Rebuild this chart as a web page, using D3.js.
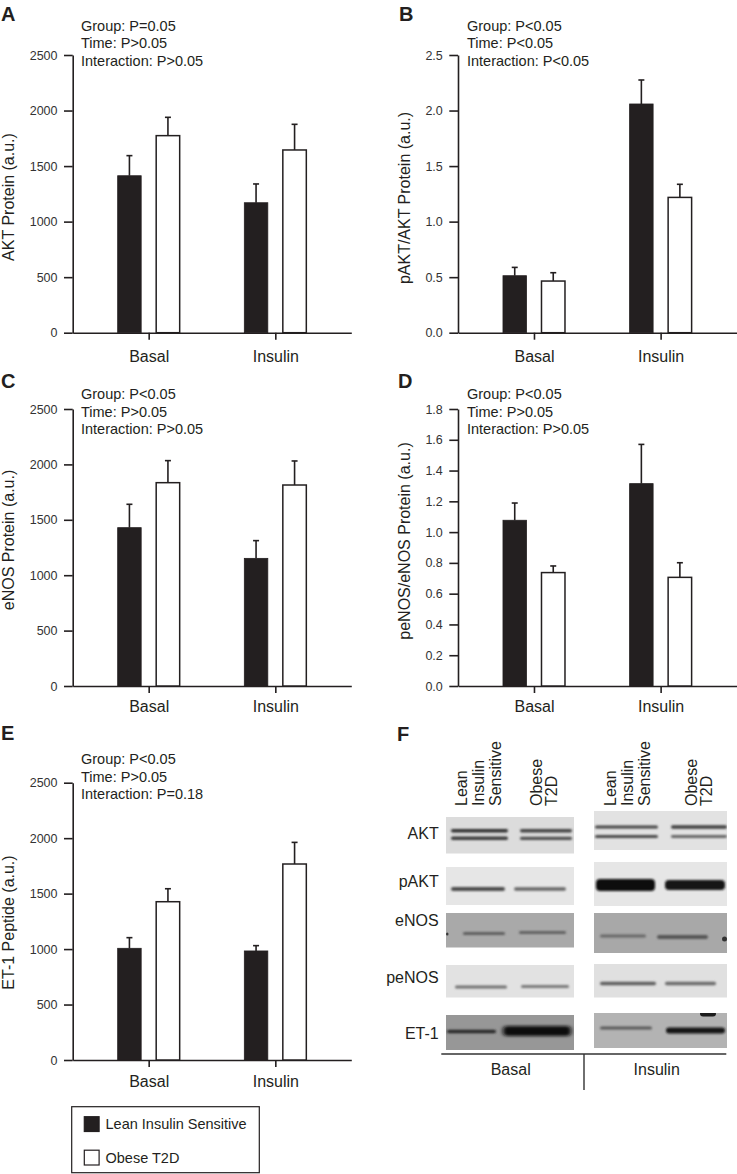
<!DOCTYPE html>
<html><head><meta charset="utf-8">
<script src="https://cdn.jsdelivr.net/npm/d3@7"></script>
<style>
body{margin:0;background:#fff;}
svg{display:block;font-family:"Liberation Sans",Arial,Helvetica,sans-serif;}
</style></head>
<body>
<svg id="chart" width="737" height="1174"></svg>
<script>
// ---------------- DATA ----------------
const categories = ["Basal", "Insulin"];
const groups = ["Lean Insulin Sensitive", "Obese T2D"];

const aktLean = [1413, 1170];
const aktLeanErr = [181, 169];
const aktObese = [1774, 1645];
const aktObeseErr = [165, 231];

const paktLean = [0.513, 2.059];
const paktLeanErr = [0.075, 0.216];
const paktObese = [0.465, 1.218];
const paktObeseErr = [0.075, 0.118];

const enosLean = [1429, 1152];
const enosLeanErr = [211, 160];
const enosObese = [1835, 1814];
const enosObeseErr = [199, 217];

const penosLean = [1.077, 1.315];
const penosLeanErr = [0.112, 0.255];
const penosObese = [0.737, 0.706];
const penosObeseErr = [0.043, 0.095];

const et1Lean = [1007, 983];
const et1LeanErr = [96, 48];
const et1Obese = [1427, 1767];
const et1ObeseErr = [117, 195];

const ticks2500 = [0, 500, 1000, 1500, 2000, 2500];
const ticksPakt = [0, 0.5, 1.0, 1.5, 2.0, 2.5];
const ticksPenos = [0, 0.2, 0.4, 0.6, 0.8, 1.0, 1.2, 1.4, 1.6, 1.8];

const statsA = ["Group: P=0.05", "Time: P>0.05", "Interaction: P>0.05"];
const statsB = ["Group: P<0.05", "Time: P<0.05", "Interaction: P<0.05"];
const statsC = ["Group: P<0.05", "Time: P>0.05", "Interaction: P>0.05"];
const statsD = ["Group: P<0.05", "Time: P>0.05", "Interaction: P>0.05"];
const statsE = ["Group: P<0.05", "Time: P>0.05", "Interaction: P=0.18"];

const blotRows = ["AKT", "pAKT", "eNOS", "peNOS", "ET-1"];
const laneLabels = [["Lean", "Insulin", "Sensitive"], ["Obese", "T2D"]];

// ---------------- DRAW ----------------
const INK = "#231f20";
const svg = d3.select("#chart");

const panels = [
  {letter:"A", lx:1, ly:21, ax:72.7, xEnd:351.3, y0:332.7, yTop:55, max:2500, ticks:ticks2500, fmt:d3.format("d"),
   lean:aktLean, leanErr:aktLeanErr, obese:aktObese, obeseErr:aktObeseErr, stats:statsA, sx:81, sy:30.5,
   title:"AKT Protein (a.u.)", tx:13.5, ty:197, catPad:10.5},
  {letter:"B", lx:399, ly:21, ax:458, xEnd:736.6, y0:332.7, yTop:55, max:2.5, ticks:ticksPakt, fmt:d3.format(".1f"),
   lean:paktLean, leanErr:paktLeanErr, obese:paktObese, obeseErr:paktObeseErr, stats:statsB, sx:467, sy:30.5,
   title:"pAKT/AKT Protein (a.u.)", tx:409.5, ty:198, catPad:10.5},
  {letter:"C", lx:1, ly:388, ax:72.7, xEnd:351.3, y0:686, yTop:409, max:2500, ticks:ticks2500, fmt:d3.format("d"),
   lean:enosLean, leanErr:enosLeanErr, obese:enosObese, obeseErr:enosObeseErr, stats:statsC, sx:81, sy:399,
   title:"eNOS Protein (a.u.)", tx:13.5, ty:540, catPad:7.3},
  {letter:"D", lx:398, ly:388, ax:458, xEnd:736.6, y0:686, yTop:409, max:1.8, ticks:ticksPenos, fmt:d3.format(".1f"),
   lean:penosLean, leanErr:penosLeanErr, obese:penosObese, obeseErr:penosObeseErr, stats:statsD, sx:467, sy:399,
   title:"peNOS/eNOS Protein (a.u.)", tx:409.5, ty:541, catPad:7.3},
  {letter:"E", lx:1, ly:740, ax:72.7, xEnd:351.3, y0:1060, yTop:782.7, max:2500, ticks:ticks2500, fmt:d3.format("d"),
   lean:et1Lean, leanErr:et1LeanErr, obese:et1Obese, obeseErr:et1ObeseErr, stats:statsE, sx:81, sy:764,
   title:"ET-1 Peptide (a.u.)", tx:13.5, ty:922.5, catPad:8.3}
];

panels.forEach(p => {
  const g = svg.append("g");
  g.append("text").attr("x", p.lx).attr("y", p.ly).attr("font-size", 20).attr("font-weight", "bold")
    .attr("fill", INK).text(p.letter);

  const y = d3.scaleLinear().domain([0, p.max]).range([p.y0, p.yTop]);
  const x = d3.scalePoint().domain(categories).range([p.ax, p.xEnd]).padding(0.6);
  const inner = d3.scaleBand().domain(groups).range([-31, 31]).paddingInner(0.39);

  // y axis
  const yAxis = g.append("g").attr("transform", `translate(${p.ax},0)`)
    .call(d3.axisLeft(y).tickValues(p.ticks).tickFormat(p.fmt).tickSize(8.7).tickSizeOuter(0).tickPadding(6.5));
  yAxis.select(".domain").attr("stroke", INK).attr("stroke-width", 1.6);
  yAxis.selectAll(".tick line").attr("stroke", INK).attr("stroke-width", 1.6);
  yAxis.selectAll(".tick text").attr("font-size", 12.5).attr("fill", "#333").attr("font-family", null);

  // x axis
  const xAxis = g.append("g").attr("transform", `translate(0,${p.y0})`)
    .call(d3.axisBottom(x).tickSize(7).tickSizeOuter(0).tickPadding(p.catPad));
  xAxis.select(".domain").attr("stroke", INK).attr("stroke-width", 1.6);
  xAxis.selectAll(".tick line").attr("stroke", INK).attr("stroke-width", 1.6);
  xAxis.selectAll(".tick text").attr("font-size", 16).attr("fill", INK).attr("font-family", null);

  // bars
  const rows = [];
  categories.forEach((c, i) => {
    rows.push({cat:c, grp:groups[0], v:p.lean[i], e:p.leanErr[i]});
    rows.push({cat:c, grp:groups[1], v:p.obese[i], e:p.obeseErr[i]});
  });
  const bw = inner.bandwidth();
  // error bars first (behind bar top)
  rows.forEach(r => {
    const cx = x(r.cat) + inner(r.grp) + bw / 2;
    g.append("line").attr("x1", cx).attr("x2", cx).attr("y1", y(r.v)).attr("y2", y(r.v + r.e))
      .attr("stroke", INK).attr("stroke-width", 1.6);
    g.append("line").attr("x1", cx - 3).attr("x2", cx + 3).attr("y1", y(r.v + r.e)).attr("y2", y(r.v + r.e))
      .attr("stroke", INK).attr("stroke-width", 1.6);
  });
  rows.forEach(r => {
    const isLean = r.grp === groups[0];
    g.append("rect").attr("x", x(r.cat) + inner(r.grp)).attr("width", bw)
      .attr("y", y(r.v)).attr("height", y(0) - y(r.v))
      .attr("fill", isLean ? INK : "#fff").attr("stroke", INK).attr("stroke-width", isLean ? 0.8 : 1.5);
  });

  // stats annotation
  const st = g.append("text").attr("font-size", 14.5).attr("fill", INK);
  p.stats.forEach((s, i) => st.append("tspan").attr("x", p.sx).attr("y", p.sy + i * 17.7).text(s));

  // y title
  g.append("text").attr("transform", `translate(${p.tx},${p.ty}) rotate(-90)`)
    .attr("text-anchor", "middle").attr("font-size", 16).attr("fill", INK).text(p.title);
});

// ---------------- Legend ----------------
const lg = svg.append("g");
lg.append("rect").attr("x", 71.7).attr("y", 1106.7).attr("width", 187.6).attr("height", 66)
  .attr("fill", "#fff").attr("stroke", INK).attr("stroke-width", 1.2);
groups.forEach((gname, i) => {
  const yy = 1116.7 + i * 33.5;
  lg.append("rect").attr("x", 84.3).attr("y", yy).attr("width", 14.8).attr("height", 14.8)
    .attr("fill", i === 0 ? INK : "#fff").attr("stroke", INK).attr("stroke-width", 1.2);
  lg.append("text").attr("x", 105.5).attr("y", yy + 12.6).attr("font-size", 14.5).attr("fill", INK).text(gname);
});

// ---------------- Panel F (western blots) ----------------
const fg = svg.append("g");
fg.append("text").attr("x", 397).attr("y", 741).attr("font-size", 20).attr("font-weight", "bold").attr("fill", INK).text("F");

const defs = svg.append("defs");
defs.append("filter").attr("id", "blur1").attr("x", "-20%").attr("y", "-100%").attr("width", "140%").attr("height", "300%")
  .append("feGaussianBlur").attr("stdDeviation", "1.3 0.9");
defs.append("filter").attr("id", "blur2").attr("x", "-20%").attr("y", "-100%").attr("width", "140%").attr("height", "300%")
  .append("feGaussianBlur").attr("stdDeviation", "2 1.4");
defs.append("filter").attr("id", "blurBg").append("feGaussianBlur").attr("stdDeviation", "0.6");

// lane headers
const headerX = [[[467, 484, 500.5], [542, 557]], [[616, 633, 649.5], [697, 712]]];
[0, 1].forEach(ci => {
  laneLabels.forEach((lines, li) => {
    lines.forEach((t, k) => {
      fg.append("text").attr("transform", `translate(${headerX[ci][li][k]},806) rotate(-90)`)
        .attr("font-size", 16).attr("fill", INK).text(t);
    });
  });
});

// blot layout: [x, y, w, h, bg] for basal and insulin; bands [x1, x2, cy, h, color, filter]
const blotLayout = [
  { label:"AKT", ly:839,
    basal:{r:[446, 817, 128, 36.5, "#dcdcdc"], bands:[[451,508,830.7,3.6,"#333","blur1"],[451,508,838.3,3.6,"#3a3a3a","blur1"],[520,572,830.7,3.4,"#444","blur1"],[520,572,838.3,3.2,"#4f4f4f","blur1"]]},
    insulin:{r:[594, 811, 133, 39, "#e2e2e2"], bands:[[595,658,827,3.2,"#444","blur1"],[595,658,836.5,3.2,"#4a4a4a","blur1"],[671,727,827,3.4,"#3f3f3f","blur1"],[671,727,836.5,2.8,"#666","blur1"]]}},
  { label:"pAKT", ly:886.7,
    basal:{r:[446, 867, 128, 38, "#e6e6e6"], bands:[[451,505,889,4,"#4d4d4d","blur1"],[514,566,889,3.6,"#666","blur1"]]},
    insulin:{r:[594, 862, 133, 44, "#e6e6e6"], bands:[[596,655,885,12,"#0d0d0d","blur1"],[665,725,885,10,"#141414","blur1"]]}},
  { label:"eNOS", ly:925.7,
    basal:{r:[446, 913, 128, 34.5, "#a9a9a9"], bands:[[463,505,933.5,3,"#5e5e5e","blur1"],[519,566,932.5,3,"#626262","blur1"],[446,448.5,934,3,"#3a3a3a","blurBg"]]},
    insulin:{r:[594, 913, 133, 40, "#a8a8a8"], bands:[[600,646,936,3,"#686868","blur1"],[657,708,937,4,"#575757","blur1"],[722,727,939,5,"#333","blurBg"]]}},
  { label:"peNOS", ly:983.3,
    basal:{r:[446, 965, 128, 32.5, "#e2e2e2"], bands:[[455,507,987,3,"#707070","blur1"],[521,569,986.5,3,"#7a7a7a","blur1"]]},
    insulin:{r:[594, 964, 133, 33.5, "#e0e0e0"], bands:[[600,656,983.5,3.6,"#5e5e5e","blur1"],[665,716,983.5,3.4,"#6a6a6a","blur1"]]}},
  { label:"ET-1", ly:1039.3,
    basal:{r:[446, 1015, 128, 35, "#979797"], bands:[[447,496,1031.5,3.6,"#2a2a2a","blur1"],[503,571,1031,10,"#0d0d0d","blur2"]]},
    insulin:{r:[594, 1013, 133, 35, "#b3b3b3"], bands:[[600,652,1028,3,"#5a5a5a","blur1"],[666,725,1030.5,6,"#151515","blur1"],[700,716,1013.5,6,"#1c1c1c","blurBg"]]}}
];

blotLayout.forEach((row, ri) => {
  fg.append("text").attr("x", 438.7).attr("y", row.ly).attr("text-anchor", "end")
    .attr("font-size", 16).attr("fill", INK).text(blotRows[ri]);
  [row.basal, row.insulin].forEach(b => {
    const [rx, ry, rw, rh, bg] = b.r;
    fg.append("rect").attr("x", rx).attr("y", ry).attr("width", rw).attr("height", rh).attr("fill", bg);
    const clipId = "clip" + ri + "_" + rx;
    defs.append("clipPath").attr("id", clipId).append("rect").attr("x", rx).attr("y", ry).attr("width", rw).attr("height", rh);
    const bg2 = fg.append("g").attr("clip-path", `url(#${clipId})`);
    b.bands.forEach(([x1, x2, cy, h, col, f]) => {
      bg2.append("rect").attr("x", x1).attr("y", cy - h / 2).attr("width", x2 - x1).attr("height", h)
        .attr("rx", Math.min(h / 2, 4)).attr("fill", col).attr("filter", `url(#${f})`);
    });
  });
});

// bottom condition axis
fg.append("line").attr("x1", 441.3).attr("x2", 726.3).attr("y1", 1054).attr("y2", 1054).attr("stroke", "#333").attr("stroke-width", 1.4);
fg.append("line").attr("x1", 584).attr("x2", 584).attr("y1", 1054).attr("y2", 1090).attr("stroke", "#333").attr("stroke-width", 1.4);
const condX = [510.7, 656.7];
categories.forEach((c, i) => {
  fg.append("text").attr("x", condX[i]).attr("y", 1075).attr("text-anchor", "middle")
    .attr("font-size", 16).attr("fill", INK).text(c);
});
</script>
</body></html>
